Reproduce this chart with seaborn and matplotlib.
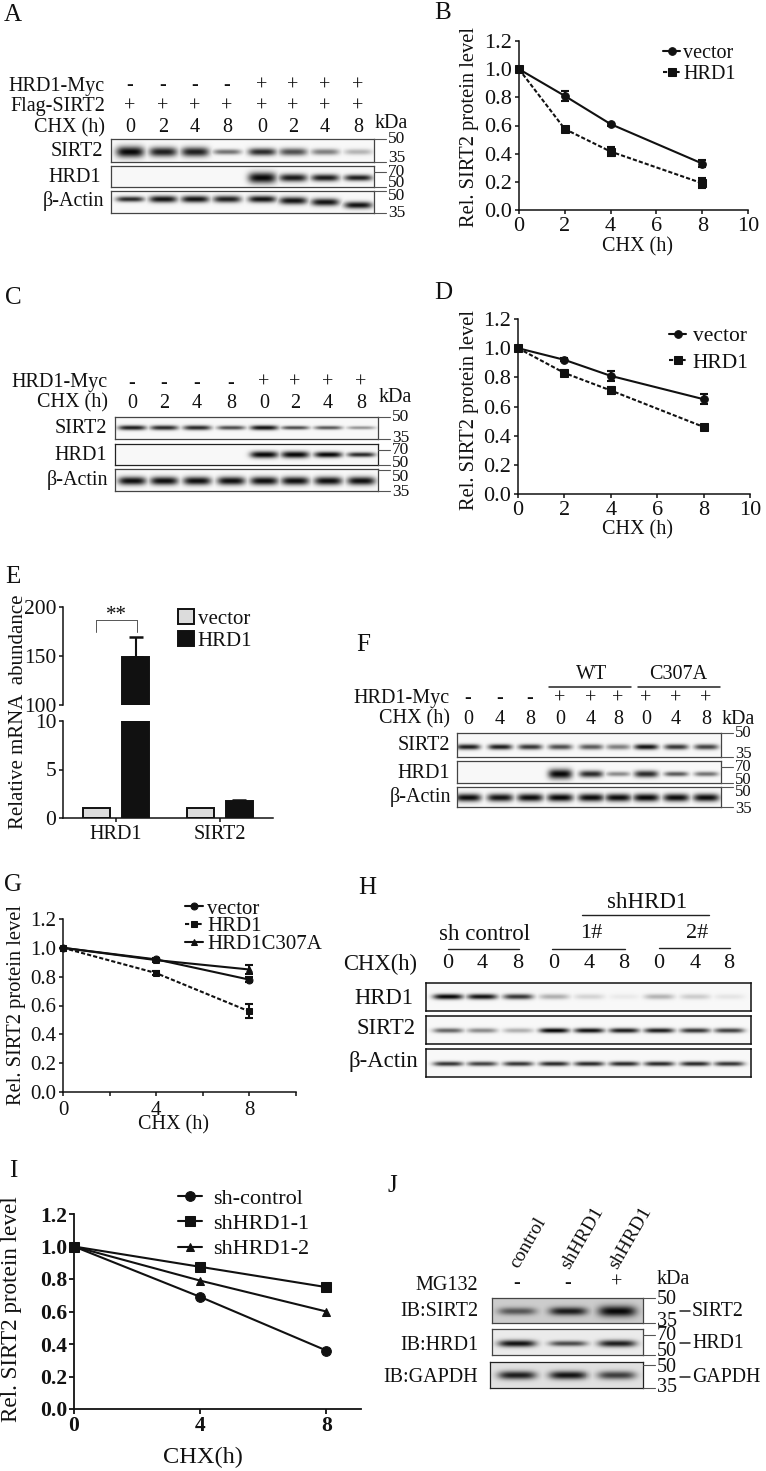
import numpy as np
import pandas as pd
import matplotlib
matplotlib.use("Agg")
import matplotlib.pyplot as plt
from matplotlib.lines import Line2D
import seaborn as sns

# ---------------- data ----------------
CHX_B = [0, 2, 4, 8]
B_vector = [1.0, 0.81, 0.61, 0.33]
B_vector_err = [0, 0.035, 0.01, 0.025]
B_hrd1 = [1.0, 0.575, 0.415, 0.19]
B_hrd1_err = [0, 0.01, 0.035, 0.035]

D_vector = [1.0, 0.92, 0.81, 0.65]
D_vector_err = [0, 0.01, 0.035, 0.035]
D_hrd1 = [1.0, 0.83, 0.71, 0.46]
D_hrd1_err = [0, 0.02, 0.025, 0.01]

CHX_G = [0, 4, 8]
G_vector = [1.0, 0.92, 0.78]
G_vector_err = [0, 0.01, 0.015]
G_hrd1 = [1.0, 0.825, 0.56]
G_hrd1_err = [0, 0.015, 0.05]
G_c307a = [1.0, 0.915, 0.85]
G_c307a_err = [0, 0.01, 0.03]

I_control = [1.0, 0.69, 0.36]
I_sh1 = [1.0, 0.875, 0.75]
I_sh2 = [1.0, 0.79, 0.60]

E_targets = ["HRD1", "SIRT2"]
E_vector = [1.0, 1.0]
E_hrd1 = [149, 1.75]
E_hrd1_err = [20, 0.15]

A_sirt2 = [1, .9, .9, .55, .85, .7, .5, .28]
A_hrd1 = [0, 0, 0, 0, 1, .92, .92, .9]
A_actin = [.85, .95, .95, .9, .95, .95, .95, .95]
C_sirt2 = [.9, .85, .85, .7, .95, .7, .65, .4]
C_hrd1 = [0, 0, 0, 0, 1, 1, 1, .85]
C_actin = [.97, .97, .97, .97, .97, .97, .97, .97]
F_sirt2 = [.9, .9, .8, .7, .65, .5, .95, .8, .75]
F_hrd1 = [0, 0, 0, 1, .85, .45, .85, .65, .55]
F_actin = [.98, .95, .98, 1, .98, .98, 1, .98, .98]
H_hrd1 = [1, .95, .8, .3, .15, .06, .28, .18, .08]
H_sirt2 = [.6, .45, .3, 1, .95, .9, .9, .8, .75]
H_actin = [.8, .75, .8, .85, .85, .85, .85, .85, .8]
J_sirt2 = [.6, .9, 1]
J_hrd1 = [.95, .7, .9]
J_gapdh = [.9, .95, .75]

A_myc = ["-", "-", "-", "-", "+", "+", "+", "+"]
A_flag = ["+"] * 8
A_chx = ["0", "2", "4", "8", "0", "2", "4", "8"]
F_myc = ["-", "-", "-", "+", "+", "+", "+", "+", "+"]
F_chx = ["0", "4", "8", "0", "4", "8", "0", "4", "8"]
J_mg = ["-", "-", "+"]
J_samples = ["control", "shHRD1", "shHRD1"]

# ---------------- setup ----------------
W, H = 766, 1471
sns.set_theme(style="ticks")
plt.rcParams["font.family"] = ["Liberation Serif"]
plt.rcParams["axes.linewidth"] = 1.1
plt.rcParams["axes.edgecolor"] = "#111111"
plt.rcParams["text.color"] = "#111111"
plt.rcParams["xtick.color"] = "#111111"
plt.rcParams["ytick.color"] = "#111111"
fig = plt.figure(figsize=(W / 100, H / 100), dpi=100, facecolor="white")


def axpx(x0, y0, x1, y1):
    return fig.add_axes([x0 / W, 1 - y1 / H, (x1 - x0) / W, (y1 - y0) / H])


def T(x, y, s, ha="center", size=14.5, **kw):
    return fig.text(x / W, 1 - y / H, s, ha=ha, va="center", fontsize=size, **kw)


def L(x0, y0, x1, y1, lw=1.0, color="#222222"):
    fig.add_artist(Line2D([x0 / W, x1 / W], [1 - y0 / H, 1 - y1 / H], lw=lw, color=color))


def blot(box, lanes, hw, vals, yc, thick, bg=0.97, shift=None, edge="#444444", elw=0.9):
    x0, y0, x1, y1 = box
    ax = axpx(x0, y0, x1, y1)
    nx, ny = int((x1 - x0) * 2), int((y1 - y0) * 2)
    xs = x0 + (np.arange(nx) + .5) / 2
    ys = (np.arange(ny) + .5) / 2
    dark = np.zeros((ny, nx))
    th = thick if np.ndim(thick) else [thick] * len(lanes)
    sh = shift if shift is not None else [0] * len(lanes)
    yy = yc * (y1 - y0)
    for lx, v, t, s in zip(lanes, vals, th, sh):
        gx = np.exp(-np.abs((xs - lx) / hw) ** 4)
        gy = np.exp(-((ys - yy - s) / t) ** 2)
        dark = np.maximum(dark, v * np.outer(gy, gx))
    sns.heatmap(bg * (1 - dark) + 0.03 * dark, ax=ax, cmap="gray", vmin=0, vmax=1, cbar=False,
                xticklabels=False, yticklabels=False, rasterized=True)
    ax.set_xlabel("")
    ax.set_ylabel("")
    for sp in ax.spines.values():
        sp.set_visible(True)
        sp.set_color(edge)
        sp.set_linewidth(elw)
    return ax


def series(ax, x, y, err, marker, ls, label, lw=1.5, ms=5.5):
    kw = dict(dashes=(2, 1)) if ls == "dash" else {}
    sns.lineplot(x=x, y=y, ax=ax, color="#111111", lw=lw, marker=marker, ms=ms, mec="#111111",
                 mfc="#111111", label=label, errorbar=None, clip_on=False, zorder=3, **kw)
    if err is not None:
        ax.errorbar(x, y, yerr=err, fmt="none", ecolor="#111111", elinewidth=1.5, capsize=3,
                    capthick=1.5, clip_on=False, zorder=3)


def style_axes(ax, xticks, xlabels, ysize=16, xsize=16, xlim=(0, 10), bold=False, xpad=1.5):
    ax.set_xlim(*xlim)
    ax.set_ylim(0, 1.2)
    ax.set_xticks(xticks, xlabels)
    yt = [0, .2, .4, .6, .8, 1.0, 1.2]
    ax.set_yticks(yt, [f"{v:.1f}" for v in yt])
    ax.tick_params(axis="x", labelsize=xsize, length=3.2, width=1.1, pad=xpad)
    ax.tick_params(axis="y", labelsize=ysize, length=3.2, width=1.1, pad=1.5)
    if bold:
        for t in ax.get_xticklabels() + ax.get_yticklabels():
            t.set_fontweight("bold")
    ax.set_xlabel("")
    ax.set_ylabel("")
    sns.despine(ax=ax)


def legend(ax, x, y, size, hl, hp, ls, **kw):
    h, l = ax.get_legend_handles_labels()
    ax.legend(h, l, loc="upper left", bbox_to_anchor=(x / W, 1 - y / H), bbox_transform=fig.transFigure,
              frameon=False, fontsize=size, borderpad=0, borderaxespad=0, handlelength=hl,
              handletextpad=hp, labelspacing=ls, **kw)


def row(lanes, y, labels, size=14.5):
    for lx, s in zip(lanes, labels):
        T(lx, y, s, size=size)


def marks(xa, xb, xt, items, size=12.5):
    for yl, yt, s in items:
        L(xa, yl, xb, yl, lw=0.8, color="#555555")
        T(xt, yt, s, ha="left", size=size)


YLAB = "Rel. SIRT2 protein level"
for s, x, y in [("A", 13, 15), ("B", 443, 13), ("C", 13, 298), ("D", 443, 293), ("E", 13, 577),
                ("F", 363, 645), ("G", 13, 885), ("H", 367, 888), ("I", 13, 1171), ("J", 392, 1186)]:
    T(x, y, s, size=18)

# ---------------- A ----------------
lanes = [130, 163, 195, 227, 262, 293, 325, 358]
row(lanes, 86, A_myc); row(lanes, 107, A_flag); row(lanes, 128, A_chx)
T(105, 86, "HRD1-Myc", ha="right"); T(105, 107, "Flag-SIRT2", ha="right"); T(105, 128, "CHX (h)", ha="right")
T(375, 123, "kDa", ha="left")
for y, s, xr in [(151, "SIRT2", 103), (177, "HRD1", 101), (201, "β-Actin", 104)]:
    T(xr, y, s, ha="right")
blot((111, 139, 374, 162), lanes, 14, A_sirt2, .55, [5.5, 4.8, 4.8, 2.8, 3.8, 3.8, 3.2, 3])
blot((111, 166, 374, 187), lanes, 14, A_hrd1, .55, [1, 1, 1, 1, 5.5, 4, 3.6, 3.2])
blot((111, 191, 374, 213), lanes, 14, A_actin, .36, [2.8, 3.5, 3.5, 3.5, 3.5, 3.8, 3.8, 3.5],
     shift=[0, 0, 0, 0, 0, 1.5, 3, 6])
marks(374, 386, 388, [(139, 139, "50"), (162, 158, "35"), (172, 172, "70"), (187, 183, "50"),
                      (191, 196, "50"), (213, 213, "35")])

# ---------------- B ----------------
ax = axpx(519, 41, 748, 210)
series(ax, CHX_B, B_vector, B_vector_err, "o", "solid", "vector")
series(ax, CHX_B, B_hrd1, B_hrd1_err, "s", "dash", "HRD1")
style_axes(ax, [0, 2, 4, 6, 8, 10], ["0", "2", "4", "6", "8", "10"])
legend(ax, 663, 44, 14.5, .85, .15, .1)
T(470, 127, YLAB, size=14.8, rotation=90)
T(638, 247, "CHX (h)")

# ---------------- C ----------------
lanes = [132, 164, 197, 231, 264, 295, 328, 361]
row(lanes, 383, A_myc); row(lanes, 403, A_chx)
T(108, 383, "HRD1-Myc", ha="right"); T(108, 403, "CHX (h)", ha="right")
T(379, 398, "kDa", ha="left")
for y, s, xr in [(429, "SIRT2", 107), (455, "HRD1", 107), (480, "β-Actin", 108)]:
    T(xr, y, s, ha="right")
blot((115, 417, 378, 439), lanes, 14, C_sirt2, .5, [2.5, 2.5, 2.5, 2.2, 2.5, 2, 2, 1.8])
blot((115, 444, 378, 465), lanes, 14, C_hrd1, .52, [1, 1, 1, 1, 3.5, 3.5, 3, 2.5], edge="#222222")
blot((115, 469, 378, 491), lanes, 14, C_actin, .53, 4.2)
marks(378, 390, 392, [(417, 417, "50"), (439, 438, "35"), (450, 450, "70"), (465, 463, "50"),
                      (470, 477, "50"), (491, 492, "35")])

# ---------------- D ----------------
ax = axpx(518, 319, 750, 494)
series(ax, CHX_B, D_vector, D_vector_err, "o", "solid", "vector")
series(ax, CHX_B, D_hrd1, D_hrd1_err, "s", "dash", "HRD1")
style_axes(ax, [0, 2, 4, 6, 8, 10], ["0", "2", "4", "6", "8", "10"])
legend(ax, 669, 326, 15.5, .8, .3, .3)
T(470, 410, YLAB, size=14.8, rotation=90)
T(638, 530, "CHX (h)")

# ---------------- E ----------------
df = pd.DataFrame({"target": E_targets * 2, "group": ["vector"] * 2 + ["HRD1"] * 2,
                   "value": E_vector + E_hrd1})
ax_top = axpx(63, 607, 273, 705)
ax_low = axpx(63, 721, 273, 818)
for ax, lim, ticks in [(ax_top, (100, 200), [100, 150, 200]), (ax_low, (0, 10), [0, 5, 10])]:
    sns.barplot(data=df, x="target", y="value", hue="group", ax=ax, palette=["#dcdcdc", "#111111"],
                edgecolor="#111111", linewidth=1.4, width=.75, gap=.3, errorbar=None, legend=True,
                order=E_targets)
    centers = [0.1875, 1.1875]
    ax.errorbar(centers, E_hrd1, yerr=[[0, 0], E_hrd1_err], fmt="none", ecolor="#111111",
                elinewidth=1.5, capsize=5, capthick=1.8, zorder=4)
    ax.set_xlim(-.51, 1.51)
    ax.set_ylim(*lim)
    ax.set_yticks(ticks, [str(t) for t in ticks])
    ax.tick_params(axis="y", labelsize=15.5, length=3.2, width=1.1, pad=1.5)
    ax.set_xlabel("")
    ax.set_ylabel("")
    sns.despine(ax=ax)
ax_top.spines["bottom"].set_visible(False)
ax_top.tick_params(axis="x", bottom=False, labelbottom=False)
ax_top.get_legend().remove()
ax_low.tick_params(axis="x", labelsize=14.5, length=3.2, width=1.1, pad=2)
legend(ax_low, 178, 609, 15, .75, .2, .1, handleheight=.75)
L(96, 632, 96, 620, lw=.7, color="#555555"); L(96, 620, 137, 620, lw=.7, color="#555555")
L(137, 620, 137, 632, lw=.7, color="#555555")
T(116, 615, "**", size=15)
T(19, 712, "Relative mRNA  abundance", size=15, rotation=90)

# ---------------- F ----------------
lanes = [468, 500, 530, 560, 591, 618, 646, 676, 706]
row(lanes, 699, F_myc); row(lanes, 719, F_chx)
T(450, 699, "HRD1-Myc", ha="right"); T(450, 719, "CHX (h)", ha="right")
T(722, 719, "kDa", ha="left")
T(592, 675, "WT"); T(678, 675, "C307A")
L(549, 687, 631, 687, lw=1.1); L(638, 687, 720, 687, lw=1.1)
for y, s, xr in [(746, "SIRT2", 450), (773, "HRD1", 450), (797, "β-Actin", 451)]:
    T(xr, y, s, ha="right")
blot((457, 733, 721, 757), lanes, 12, F_sirt2, .57, 2.8)
blot((457, 761, 721, 783), lanes, 12, F_hrd1, .58, [1, 1, 1, 5, 3.5, 2.5, 3.5, 2.5, 2.5])
blot((457, 787, 721, 807), lanes, 13, F_actin, .52, 4)
marks(721, 733, 735, [(733, 733, "50"), (757, 754, "35"), (767, 767, "70"), (783, 780, "50"),
                      (787, 792, "50"), (807, 809, "35")], size=12)

# ---------------- G ----------------
ax = axpx(63, 919, 295.5, 1092)
series(ax, CHX_G, G_vector, G_vector_err, "o", "solid", "vector", ms=5)
series(ax, CHX_G, G_hrd1, G_hrd1_err, "s", "dash", "HRD1", ms=5)
series(ax, CHX_G, G_c307a, G_c307a_err, "^", "solid", "HRD1C307A", ms=5)
style_axes(ax, [0, 4, 8], ["0", "4", "8"], ysize=15, xsize=15, xpad=3)
ax.set_xticks([2, 6, 10], minor=True)
ax.tick_params(axis="x", which="minor", length=3.2, width=1.1)
legend(ax, 185, 899, 15, .85, .2, -.08)
T(17, 1005, YLAB, size=14.8, rotation=90)
T(173, 1125, "CHX (h)")

# ---------------- H ----------------
lanes = [448, 482, 518, 554, 589, 624, 659, 695, 729]
row(lanes, 964, F_chx, size=16)
T(417, 964, "CHX(h)", ha="right", size=16.3)
T(485, 934, "sh control", size=16.5); T(591, 933, "1#", size=16); T(697, 933, "2#", size=16)
T(647, 903, "shHRD1", size=16.5)
L(448, 949, 519, 949); L(552, 949, 625, 949); L(659, 948, 730, 948); L(582, 915, 709, 915)
for y, s, xr in [(999, "HRD1", 413), (1029, "SIRT2", 416), (1062, "β-Actin", 418)]:
    T(xr, y, s, ha="right", size=16.3)
blot((426, 983, 751, 1011), lanes, 15, H_hrd1, .48, 2.8, edge="#111111", elw=1.1)
blot((426, 1016, 751, 1044), lanes, 15, H_sirt2, .51, 2.5, edge="#111111", elw=1.1)
blot((426, 1049, 751, 1077), lanes, 15, H_actin, .52, 2.4, edge="#111111", elw=1.1)

# ---------------- I ----------------
ax = axpx(74, 1214, 361, 1409)
series(ax, CHX_G, I_control, None, "o", "solid", "sh-control", lw=1.5, ms=7)
series(ax, CHX_G, I_sh1, None, "s", "solid", "shHRD1-1", lw=1.5, ms=7)
series(ax, CHX_G, I_sh2, None, "^", "solid", "shHRD1-2", lw=1.5, ms=6)
style_axes(ax, [0, 4, 8], ["0", "4", "8"], ysize=15.5, xsize=15.5, xlim=(0, 9.1), bold=True)
for sp in ax.spines.values():
    sp.set_linewidth(1.3)
ax.tick_params(width=1.3, length=3.5)
legend(ax, 178, 1188, 16, 1.1, .5, .22)
T(12, 1309, YLAB, size=16.7, rotation=90)
T(203, 1457, "CHX(h)", size=17.6)

# ---------------- J ----------------
lanes = [517, 568, 617]
row(lanes, 1283, J_mg)
for (x, y), s in zip([(528, 1243), (582, 1238), (630, 1238)], J_samples):
    T(x, y, s, size=14, rotation=60)
T(478, 1286, "MG132", ha="right"); T(657, 1279, "kDa", ha="left")
T(478, 1311, "IB:SIRT2", ha="right"); T(478, 1345, "IB:HRD1", ha="right")
T(478, 1378, "IB:GAPDH", ha="right")
blot((492, 1298, 643, 1323), lanes, 19, J_sirt2, .52, [3.8, 4.2, 5.5], bg=.8)
blot((492, 1329, 643, 1355), lanes, 19, J_hrd1, .55, [3.5, 2.8, 3.5], bg=.92)
blot((490, 1362, 643, 1388), lanes, 19, J_gapdh, .5, 4.2, bg=.88, edge="#222222")
marks(643, 655, 657, [(1298, 1299, "50"), (1323, 1322, "35"), (1335, 1335, "70"), (1355, 1352, "50"),
                      (1365, 1367, "50"), (1388, 1388, "35")], size=14.5)
for y, s in [(1311, "SIRT2"), (1343, "HRD1"), (1377, "GAPDH")]:
    L(680, y, 690, y, lw=1.1)
    T(692, y, s, ha="left", size=14.3)

fig.savefig("out.png", dpi=100, facecolor="white")
